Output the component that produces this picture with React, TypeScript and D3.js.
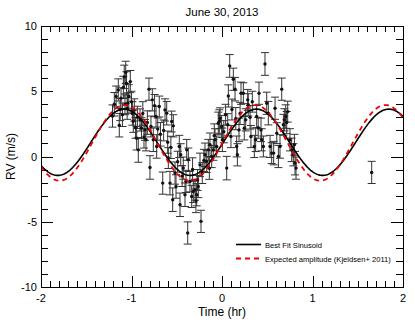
import React from "react";
import * as d3 from "d3";

// observation times (hr), radial velocities (m/s) and 1-sigma errors
const obsTime = [
  -1.21, -1.19, -1.17, -1.146, -1.135, -1.125, -1.116, -1.1, -1.09, -1.08,
  -1.072, -1.064, -1.055, -1.048, -1.042, -1.03, -1.013, -1.0, -0.99, -0.98,
  -0.969, -0.955, -0.943, -0.935, -0.925, -0.906, -0.89, -0.875, -0.862, -0.851,
  -0.84, -0.825, -0.807, -0.796, -0.785, -0.77, -0.759, -0.745, -0.729, -0.722,
  -0.71, -0.693, -0.68, -0.655, -0.645, -0.63, -0.611, -0.6, -0.593, -0.575,
  -0.565, -0.556, -0.545, -0.538, -0.519, -0.508, -0.49, -0.472, -0.464, -0.456,
  -0.44, -0.428, -0.409, -0.398, -0.39, -0.379, -0.372, -0.354, -0.335, -0.325,
  -0.317, -0.298, -0.288, -0.28, -0.27, -0.262, -0.243, -0.232, -0.218, -0.2,
  -0.188, -0.169, -0.151, -0.14, -0.133, -0.114, -0.096, -0.085, -0.077, -0.059,
  -0.041, -0.03, -0.022, -0.004, 0.004, 0.02, 0.04, 0.052, 0.063, 0.07,
  0.085, 0.099, 0.11, 0.125, 0.144, 0.152, 0.162, 0.17, 0.188, 0.2,
  0.21, 0.236, 0.246, 0.262, 0.284, 0.29, 0.31, 0.32, 0.335, 0.357,
  0.372, 0.383, 0.4, 0.409, 0.431, 0.438, 0.457, 0.475, 0.494, 0.512,
  0.531, 0.549, 0.571, 0.586, 0.605, 0.623, 0.641, 0.66, 0.678, 0.689,
  0.704, 0.715, 0.726, 0.751, 0.77, 0.788, 0.8, 0.807, 0.818, 1.654,
];

const obsRv = [
  3.1, 4.0, 4.6, 5.1, 2.4, 3.6, 4.47, 3.2, 5.3, 6.1,
  4.0, 6.45, 5.6, 3.7, 4.08, 4.6, 5.74, 4.2, 3.3, 2.7,
  3.57, 2.2, 1.4, 3.0, 0.51, 2.8, 2.17, 3.3, 1.5, 2.04,
  1.28, 2.6, 5.16, -0.84, 2.3, 4.34, 1.28, 3.9, 3.06, 0.77,
  2.1, 3.83, 1.7, -2.04, 2.0, 3.57, 3.32, 1.1, -0.12, -2.04,
  0.7, 2.68, -3.31, 2.35, -1.27, -2.3, -0.4, 0.77, -3.7, 0.13,
  -1.5, -0.89, -2.93, -1.91, 0.51, -5.86, -0.25, -1.91, -3.06, -1.0,
  -2.68, -2.55, -3.4, -2.93, -1.8, -2.3, -0.64, -4.97, -1.27, -0.3,
  0.13, -0.38, 0.51, -0.9, 0.9, 0, 0.51, 1.6, 1.28, 0.77,
  2.55, 2.68, 2.93, 2.3, 1.28, 1.9, 3.2, -0.89, 2.43, 4.64,
  6.94, 1.53, 3.6, 5.92, 5.16, 2.9, 0.77, 0.13, 2.04, 3.3,
  4.85, 4.85, 2.17, 2.81, 4.34, 3.96, 3.0, 1.53, 4.2, 0.77,
  1.28, 3.06, 2.2, 4.85, 2.04, 1.28, 0.77, 7.09, 4.08, 3.32,
  0.77, 0.26, 0.26, 3.7, 1.79, 0, 0.77, 5.16, 2.43, 2.81,
  3.06, 2.6, 3.44, 1.28, 0.51, 0.13, 0.9, -0.51, -0.89, -1.22,
];

const obsErr = [
  0.85, 0.9, 0.8, 0.85, 0.9, 0.85, 0.8, 0.9, 0.85, 0.9,
  0.8, 0.85, 0.9, 0.85, 0.8, 0.9, 0.85, 0.8, 0.9, 0.85,
  0.85, 0.8, 0.9, 0.85, 0.95, 0.85, 0.8, 0.9, 0.85, 0.8,
  0.85, 0.9, 0.85, 0.9, 0.8, 0.85, 0.9, 0.85, 0.8, 0.9,
  0.85, 0.8, 0.9, 0.85, 0.8, 0.85, 0.9, 0.85, 0.8, 0.9,
  0.85, 0.8, 0.9, 0.85, 0.85, 0.9, 0.8, 0.85, 0.9, 0.85,
  0.8, 0.85, 0.9, 0.85, 0.8, 0.85, 0.9, 0.8, 0.85, 0.9,
  0.85, 0.8, 0.9, 0.85, 0.8, 0.85, 0.9, 0.85, 0.8, 0.85,
  0.9, 0.85, 0.8, 0.85, 0.9, 0.85, 0.8, 0.9, 0.85, 0.8,
  0.85, 0.9, 0.8, 0.85, 0.9, 0.85, 0.8, 0.9, 0.85, 0.85,
  0.87, 0.85, 0.8, 0.85, 0.9, 0.85, 0.8, 0.85, 0.9, 0.85,
  0.85, 0.8, 0.9, 0.85, 0.8, 0.85, 0.9, 0.85, 0.8, 0.85,
  0.9, 0.85, 0.8, 0.85, 0.9, 0.85, 0.8, 0.87, 0.85, 0.9,
  0.85, 0.8, 0.9, 0.85, 0.8, 0.85, 0.9, 0.85, 0.8, 0.85,
  0.9, 0.85, 0.8, 0.85, 0.9, 0.85, 0.8, 0.9, 0.85, 0.85,
];

// sinusoid parameters: [mean, amplitude, period (hr), time of maximum (hr)]
const bestFit = [1.09, 2.54, 1.463, 0.38];
const expected = [1.045, 2.9, 1.44, 0.365];

const xTicks = [-2, -1, 0, 1, 2];
const yTicks = [-10, -5, 0, 5, 10];

const W = 415;
const H = 323;
const margin = { top: 26, right: 12, bottom: 36, left: 41 };
const font = "'Liberation Sans', Arial, Helvetica, sans-serif";

export default function App() {
  const pw = W - margin.left - margin.right;
  const ph = H - margin.top - margin.bottom;

  const x = d3.scaleLinear().domain([-2, 2]).range([0, pw]);
  const y = d3.scaleLinear().domain([-10, 10]).range([ph, 0]);

  const sine = (p: number[]) => (t: number) =>
    p[0] + p[1] * Math.cos((2 * Math.PI * (t - p[3])) / p[2]);

  // sample the model curves across the whole time range
  const grid = d3.range(0, 401).map((i) => -2 + (4 * i) / 400);
  const curve = (p: number[]) => {
    const f = sine(p);
    return d3
      .line<number>()
      .x((t) => x(t))
      .y((t) => y(f(t)))(grid) as string;
  };

  const xMinor = d3.range(-20, 21).map((d) => d / 10);
  const yMinor = d3.range(-10, 11);

  const cap = 4;

  return (
    <svg
      width={W}
      height={H}
      style={{ position: "absolute", left: 0, top: 0, background: "#fff" }}
      fontFamily={font}
    >
      <defs>
        <clipPath id="plotclip">
          <rect x={0} y={0} width={pw} height={ph} />
        </clipPath>
      </defs>
      <text x={margin.left + pw / 2} y={16} textAnchor="middle" fontSize={11.5}>
        June 30, 2013
      </text>
      <g transform={`translate(${margin.left},${margin.top})`}>
        {/* ticks on all four sides, pointing inward */}
        <g stroke="#000" strokeWidth={1}>
          {xMinor.map((d, i) => {
            const major = Math.abs(d - Math.round(d)) < 1e-9;
            const len = major ? 11 : 6;
            const xx = Math.round(x(d)) + 0.5;
            return (
              <g key={"xt" + i}>
                <line x1={xx} x2={xx} y1={ph} y2={ph - len} />
                <line x1={xx} x2={xx} y1={0} y2={len} />
              </g>
            );
          })}
          {yMinor.map((d, i) => {
            const major = d % 5 === 0;
            const len = major ? 12 : 7;
            const yy = Math.round(y(d)) + 0.5;
            return (
              <g key={"yt" + i}>
                <line x1={0} x2={len} y1={yy} y2={yy} />
                <line x1={pw} x2={pw - len} y1={yy} y2={yy} />
              </g>
            );
          })}
        </g>

        {/* data with error bars */}
        <g clipPath="url(#plotclip)">
          <g stroke="#333" strokeWidth={1} fill="none">
            {obsTime.map((t, i) => {
              const cx = x(t);
              const y1 = y(obsRv[i] + obsErr[i]);
              const y0 = y(obsRv[i] - obsErr[i]);
              return (
                <g key={"e" + i}>
                  <line x1={cx} x2={cx} y1={y1} y2={y0} />
                  <line x1={cx - cap} x2={cx + cap} y1={y1} y2={y1} />
                  <line x1={cx - cap} x2={cx + cap} y1={y0} y2={y0} />
                </g>
              );
            })}
          </g>
          <g fill="#111">
            {obsTime.map((t, i) => (
              <circle key={"p" + i} cx={x(t)} cy={y(obsRv[i])} r={1.7} />
            ))}
          </g>
          <path d={curve(bestFit)} fill="none" stroke="#000" strokeWidth={1.6} />
          <path
            d={curve(expected)}
            fill="none"
            stroke="#e00"
            strokeWidth={1.8}
            strokeDasharray="5,4"
          />
        </g>

        {/* frame */}
        <rect x={0.5} y={0.5} width={pw} height={ph} fill="none" stroke="#000" strokeWidth={1} />

        {/* tick labels */}
        {xTicks.map((d) => (
          <text key={"xl" + d} x={x(d)} y={ph + 15} textAnchor="middle" fontSize={11}>
            {d}
          </text>
        ))}
        {yTicks.map((d) => (
          <text key={"yl" + d} x={-4} y={y(d) + 4} textAnchor="end" fontSize={11}>
            {d}
          </text>
        ))}

        {/* legend */}
        <g fontSize={7.6}>
          <line x1={195} x2={220} y1={218.5} y2={218.5} stroke="#000" strokeWidth={1.6} />
          <text x={224} y={221.5}>Best Fit Sinusoid</text>
          <line
            x1={195}
            x2={220}
            y1={232.5}
            y2={232.5}
            stroke="#e00"
            strokeWidth={1.8}
            strokeDasharray="5,4"
          />
          <text x={224} y={235.5}>Expected amplitude (Kjeldsen+ 2011)</text>
        </g>
      </g>
      <text x={margin.left + pw / 2} y={316} textAnchor="middle" fontSize={12}>
        Time (hr)
      </text>
      <text
        transform={`translate(15,${margin.top + ph / 2}) rotate(-90)`}
        textAnchor="middle"
        fontSize={12}
      >
        RV (m/s)
      </text>
    </svg>
  );
}
